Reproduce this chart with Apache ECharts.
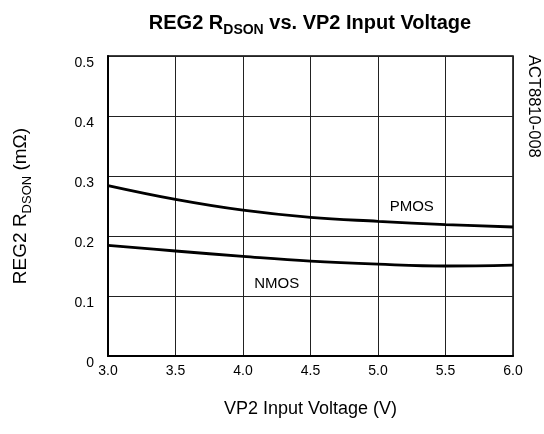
<!DOCTYPE html>
<html><head><meta charset="utf-8">
<script src="https://cdn.jsdelivr.net/npm/echarts@6/dist/echarts.min.js"></script>
<style>html,body{margin:0;padding:0;background:#fff}#c{width:544px;height:434px}</style>
</head><body><div id="c"></div>
<script>
const voltages = [3.0, 3.5, 4.0, 4.5, 5.0, 5.5, 6.0];
const pmos = [0.284, 0.261, 0.243, 0.231, 0.2245, 0.219, 0.215];
const nmos = [0.1845, 0.175, 0.166, 0.158, 0.153, 0.150, 0.1515];
const yTicks = [0, 0.1, 0.2, 0.3, 0.4, 0.5];
const pmosLabelAt = [5.25, 0.248];
const nmosLabelAt = [4.25, 0.1207];

const chart = echarts.init(document.getElementById('c'));
const font = 'Liberation Sans, Arial, sans-serif';
chart.setOption({
  animation: false,
  title: {
    text: '{a|REG2 R}{b|DSON}{a| vs. VP2 Input Voltage}',
    left: 305, top: 4, textAlign: 'center',
    textStyle: {
      rich: {
        a: {fontFamily: font, fontSize: 20, fontWeight: 'bold', color: '#000', verticalAlign: 'bottom', lineHeight: 24},
        b: {fontFamily: font, fontSize: 14, fontWeight: 'bold', color: '#000', verticalAlign: 'bottom', lineHeight: 16, padding: [0,0,-4,0]}
      }
    }
  },
  grid: {left: 108, right: 31, top: 56, bottom: 78, show: true, borderColor: '#000', borderWidth: 1.5},
  xAxis: {
    type: 'value', min: 3.0, max: 6.0, interval: 0.5,
    name: 'VP2 Input Voltage (V)', nameLocation: 'middle', nameGap: 44,
    nameTextStyle: {fontFamily: font, fontSize: 18, color: '#000'},
    axisLine: {lineStyle: {color: '#000', width: 2}},
    axisTick: {show: false},
    splitLine: {lineStyle: {color: '#222', width: 1}},
    axisLabel: {fontFamily: font, fontSize: 14, color: '#000', margin: 8,
      formatter: v => v.toFixed(1)}
  },
  yAxis: {
    type: 'value', min: 0, max: 0.5, interval: 0.1,
    name: '{a|REG2 R}{b|DSON}{a| (mΩ)}', nameLocation: 'middle', nameGap: 78, nameRotate: 90,
    nameTextStyle: {
      rich: {
        a: {fontFamily: font, fontSize: 19, color: '#000', verticalAlign: 'bottom', lineHeight: 22},
        b: {fontFamily: font, fontSize: 13, color: '#000', verticalAlign: 'bottom', lineHeight: 15, padding: [0,0,-4,0]}
      }
    },
    axisLine: {show: true, lineStyle: {color: '#000', width: 2}},
    axisTick: {show: false},
    splitLine: {lineStyle: {color: '#222', width: 1}},
    axisLabel: {fontFamily: font, fontSize: 14, color: '#000', margin: 14, verticalAlign: 'top', lineHeight: 14,
      formatter: v => yTicks.includes(Math.round(v*10)/10) ? (v === 0 ? '0' : v.toFixed(1)) : ''}
  },
  graphic: [{
    type: 'text', x: 542, y: 55, rotation: -Math.PI/2,
    style: {text: 'ACT8810-008', fontFamily: font, fontSize: 16.5, fill: '#000'}
  }],
  series: [
    {type: 'line', smooth: 0.4, symbol: 'none', data: voltages.map((v,i)=>[v,pmos[i]]),
     lineStyle: {color: '#000', width: 2.8},
     markPoint: {symbolSize: 0, data: [{coord: pmosLabelAt, label: {show: true, formatter: 'PMOS', fontFamily: font, fontSize: 15, color: '#000'}}]}},
    {type: 'line', smooth: 0.4, symbol: 'none', data: voltages.map((v,i)=>[v,nmos[i]]),
     lineStyle: {color: '#000', width: 2.8},
     markPoint: {symbolSize: 0, data: [{coord: nmosLabelAt, label: {show: true, formatter: 'NMOS', fontFamily: font, fontSize: 15, color: '#000'}}]}}
  ]
});
</script></body></html>
